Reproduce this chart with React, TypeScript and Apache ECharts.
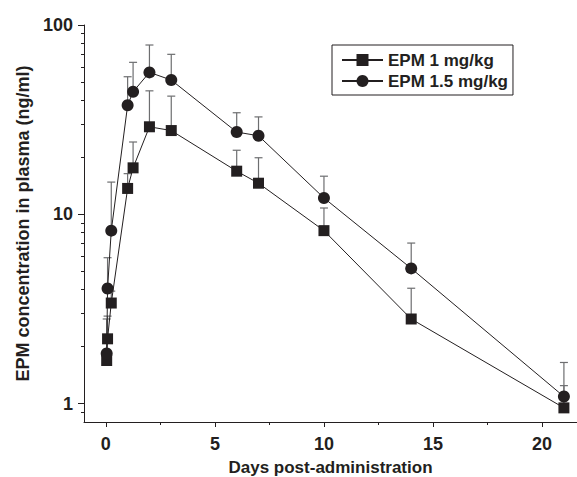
import React, { useEffect, useRef } from "react";
import * as echarts from "echarts";

// Time points (days post-administration)
const days = [0.04, 0.08, 0.25, 1, 1.25, 2, 3, 6, 7, 10, 14, 21];
// EPM 1 mg/kg (mean, upper error)
const dose1Mean = [1.69, 2.2, 3.4, 13.7, 17.6, 29.0, 27.7, 16.9, 14.6, 8.2, 2.8, 0.95];
const dose1Upper = [1.69, 2.9, 3.93, 16.4, 24.1, 44.9, 42.1, 21.8, 19.9, 10.8, 4.07, 1.245];
// EPM 1.5 mg/kg (mean, upper error)
const dose15Mean = [1.84, 4.06, 8.2, 37.7, 44.4, 56.2, 51.2, 27.2, 26.0, 12.2, 5.18, 1.09];
const dose15Upper = [2.8, 5.9, 14.8, 53.3, 63.5, 78.4, 70.0, 34.4, 32.7, 15.9, 7.05, 1.65];

const seriesNames = ["EPM 1 mg/kg", "EPM 1.5 mg/kg"];
const xMajorTicks = [0, 5, 10, 15, 20];
const xMinorTicks = [2.5, 7.5, 12.5, 17.5];
const yMajorTicks = [1, 10, 100];
const yMinorTicks = [0.9, 2, 3, 4, 5, 6, 7, 8, 9, 20, 30, 40, 50, 60, 70, 80, 90];

const INK = "#231f20";
const FONT = "Liberation Sans, Arial, sans-serif";

export default function App() {
  const ref = useRef<HTMLDivElement>(null);
  useEffect(() => {
    if (!ref.current) return;
    const chart = echarts.init(ref.current, undefined, { renderer: "svg" });

    const errData = (means: number[], ups: number[]) =>
      days.map((d, i) => [d, means[i], ups[i]]);

    const errRender = (params: any, api: any) => {
      const x = api.value(0);
      const y = api.value(1);
      const hi = api.value(2);
      const p0 = api.coord([x, y]);
      const p1 = api.coord([x, hi]);
      const st = { stroke: "#6d6e70", lineWidth: 1.2 };
      return {
        type: "group",
        children: [
          { type: "line", shape: { x1: p0[0], y1: p0[1], x2: p1[0], y2: p1[1] }, style: st },
          { type: "line", shape: { x1: p1[0] - 4, y1: p1[1], x2: p1[0] + 4, y2: p1[1] }, style: st },
        ],
      };
    };

    const yBase = {
      type: "log",
      logBase: 10,
      min: 0.8,
      max: 100,
      position: "left",
      splitLine: { show: false },
      minorTick: { show: false },
    };
    const xBase = {
      type: "value",
      min: -1,
      max: 21.6,
      position: "bottom",
      splitLine: { show: false },
      minorTick: { show: false },
    };

    chart.setOption({
      animation: false,
      backgroundColor: "#ffffff",
      textStyle: { fontFamily: FONT },
      grid: { left: 84, right: 0, top: 25, bottom: 55, containLabel: false, outerBoundsMode: "none" },
      legend: {
        orient: "vertical",
        left: 332,
        top: 45,
        data: seriesNames,
        borderColor: INK,
        borderWidth: 1,
        borderRadius: 0,
        padding: [6, 5, 5, 9],
        itemGap: 3,
        itemWidth: 41,
        itemHeight: 15,
        itemTextGap: 5,
        textStyle: { fontFamily: FONT, fontWeight: "bold", fontSize: 17, color: INK, lineHeight: 18 },
      },
      xAxis: [
        {
          ...xBase,
          name: "Days post-administration",
          nameLocation: "middle",
          nameGap: 37,
          nameTextStyle: { fontFamily: FONT, fontWeight: "bold", fontSize: 17, color: INK },
          axisLine: { show: true, onZero: false, lineStyle: { color: INK, width: 1 } },
          axisTick: { show: true, length: 5, inside: false, lineStyle: { color: INK, width: 1 }, customValues: xMajorTicks },
          axisLabel: { customValues: xMajorTicks, margin: 13, fontFamily: FONT, fontWeight: "bold", fontSize: 18, color: INK },
        },
        {
          ...xBase,
          axisLine: { show: false, onZero: false },
          axisTick: { show: true, length: 3, inside: false, lineStyle: { color: INK, width: 1 }, customValues: xMinorTicks },
          axisLabel: { show: false },
        },
      ],
      yAxis: [
        {
          ...yBase,
          name: "EPM concentration in plasma (ng/ml)",
          nameLocation: "middle",
          nameGap: 52,
          nameRotate: 90,
          nameTextStyle: { fontFamily: FONT, fontWeight: "bold", fontSize: 18, color: INK },
          axisLine: { show: true, onZero: false, lineStyle: { color: INK, width: 1 } },
          axisTick: { show: true, length: 6, inside: false, lineStyle: { color: INK, width: 1 }, customValues: yMajorTicks },
          axisLabel: { customValues: yMajorTicks, margin: 11, fontFamily: FONT, fontWeight: "bold", fontSize: 18, color: INK },
        },
        {
          ...yBase,
          axisLine: { show: false, onZero: false },
          axisTick: { show: true, length: 3, inside: false, lineStyle: { color: INK, width: 1 }, customValues: yMinorTicks },
          axisLabel: { show: false },
        },
      ],
      series: [
        {
          type: "custom",
          name: "err1",
          renderItem: errRender,
          data: errData(dose1Mean, dose1Upper),
          encode: { x: 0, y: [1, 2] },
          z: 1,
          silent: true,
        },
        {
          type: "custom",
          name: "err15",
          renderItem: errRender,
          data: errData(dose15Mean, dose15Upper),
          encode: { x: 0, y: [1, 2] },
          z: 1,
          silent: true,
        },
        {
          type: "line",
          name: seriesNames[0],
          data: days.map((d, i) => [d, dose1Mean[i]]),
          symbol: "rect",
          symbolSize: 11,
          itemStyle: { color: INK },
          lineStyle: { color: INK, width: 1 },
          z: 3,
        },
        {
          type: "line",
          name: seriesNames[1],
          data: days.map((d, i) => [d, dose15Mean[i]]),
          symbol: "circle",
          symbolSize: 12,
          itemStyle: { color: INK },
          lineStyle: { color: INK, width: 1 },
          z: 4,
        },
      ],
    });
    return () => chart.dispose();
  }, []);
  return (
    <div
      ref={ref}
      style={{ position: "absolute", left: 0, top: 0, width: 577, height: 477, background: "#fff" }}
    />
  );
}
